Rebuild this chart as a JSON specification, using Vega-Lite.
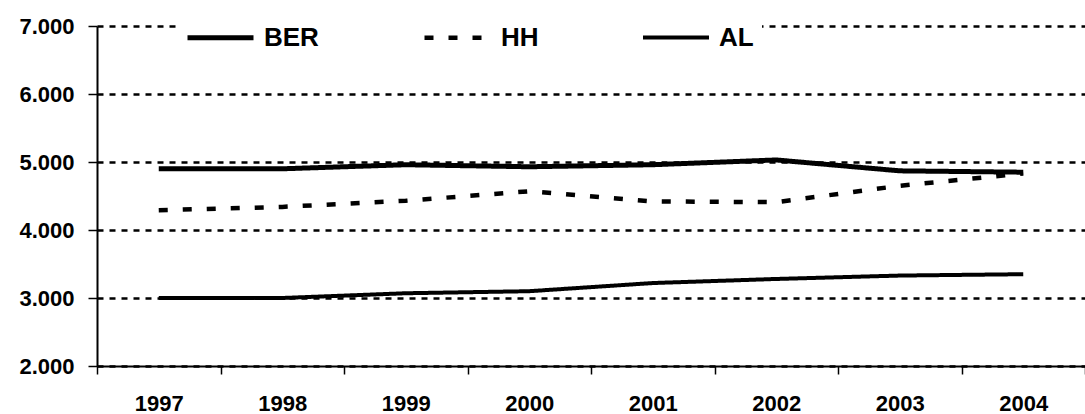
{
  "$schema": "https://vega.github.io/schema/vega-lite/v6.json",
  "width": 988,
  "height": 340,
  "autosize": {"type": "none"},
  "padding": {"left": 97, "top": 26, "right": 0, "bottom": 48},
  "background": "white",
  "config": {"view": {"stroke": null}, "font": "Liberation Sans"},
  "data": {
    "values": [
      {"year": "1997", "series": "BER", "value": 4900},
      {"year": "1998", "series": "BER", "value": 4900},
      {"year": "1999", "series": "BER", "value": 4960},
      {"year": "2000", "series": "BER", "value": 4930},
      {"year": "2001", "series": "BER", "value": 4960},
      {"year": "2002", "series": "BER", "value": 5030},
      {"year": "2003", "series": "BER", "value": 4870},
      {"year": "2004", "series": "BER", "value": 4850},
      {"year": "1997", "series": "HH", "value": 4290},
      {"year": "1998", "series": "HH", "value": 4340},
      {"year": "1999", "series": "HH", "value": 4430},
      {"year": "2000", "series": "HH", "value": 4570},
      {"year": "2001", "series": "HH", "value": 4420},
      {"year": "2002", "series": "HH", "value": 4410},
      {"year": "2003", "series": "HH", "value": 4650},
      {"year": "2004", "series": "HH", "value": 4830},
      {"year": "1997", "series": "AL", "value": 3000},
      {"year": "1998", "series": "AL", "value": 3000},
      {"year": "1999", "series": "AL", "value": 3070},
      {"year": "2000", "series": "AL", "value": 3100},
      {"year": "2001", "series": "AL", "value": 3220},
      {"year": "2002", "series": "AL", "value": 3280},
      {"year": "2003", "series": "AL", "value": 3330},
      {"year": "2004", "series": "AL", "value": 3350}
    ]
  },
  "mark": {"type": "line", "strokeCap": "butt", "strokeJoin": "round"},
  "encoding": {
    "x": {
      "field": "year",
      "type": "ordinal",
      "bandPosition": 0.5,
      "scale": {"type": "band", "paddingInner": 0, "paddingOuter": 0},
      "axis": {
        "title": null,
        "labelAngle": 0,
        "tickBand": "extent",
        "domainColor": "black",
        "domainWidth": 2,
        "tickColor": "black",
        "tickSize": 8,
        "tickWidth": 1.5,
        "labelFontSize": 22,
        "labelFontWeight": "bold",
        "labelColor": "black",
        "labelPadding": 19,
        "grid": false
      }
    },
    "y": {
      "field": "value",
      "type": "quantitative",
      "scale": {"domain": [2000, 7000], "nice": false, "zero": false},
      "axis": {
        "title": null,
        "values": [2000, 3000, 4000, 5000, 6000, 7000],
        "labelExpr": "replace(format(datum.value, ',.0f'), ',', '.')",
        "grid": true,
        "gridColor": "black",
        "gridDash": [6, 6],
        "gridWidth": 2.5,
        "domainColor": "black",
        "domainWidth": 2,
        "tickColor": "black",
        "tickSize": 9,
        "tickWidth": 1.5,
        "labelFontSize": 22,
        "labelFontWeight": "bold",
        "labelColor": "black",
        "labelPadding": 14
      }
    },
    "color": {
      "field": "series",
      "type": "ordinal",
      "scale": {"domain": ["BER", "HH", "AL"], "range": ["black", "black", "black"]},
      "legend": {
        "title": null,
        "orient": "none",
        "legendX": 80,
        "legendY": -32,
        "direction": "horizontal",
        "fillColor": "white",
        "padding": 8,
        "symbolType": "stroke",
        "symbolSize": 4356,
        "symbolStrokeColor": "black",
        "labelFontSize": 26,
        "labelFontWeight": "bold",
        "labelColor": "black",
        "labelOffset": 8,
        "columnPadding": 96
      }
    },
    "strokeDash": {
      "field": "series",
      "type": "ordinal",
      "scale": {"domain": ["BER", "HH", "AL"], "range": [[1, 0], [9, 15], [1, 0]]}
    },
    "strokeWidth": {
      "field": "series",
      "type": "ordinal",
      "scale": {"domain": ["BER", "HH", "AL"], "range": [5, 4, 2.5]}
    }
  }
}
